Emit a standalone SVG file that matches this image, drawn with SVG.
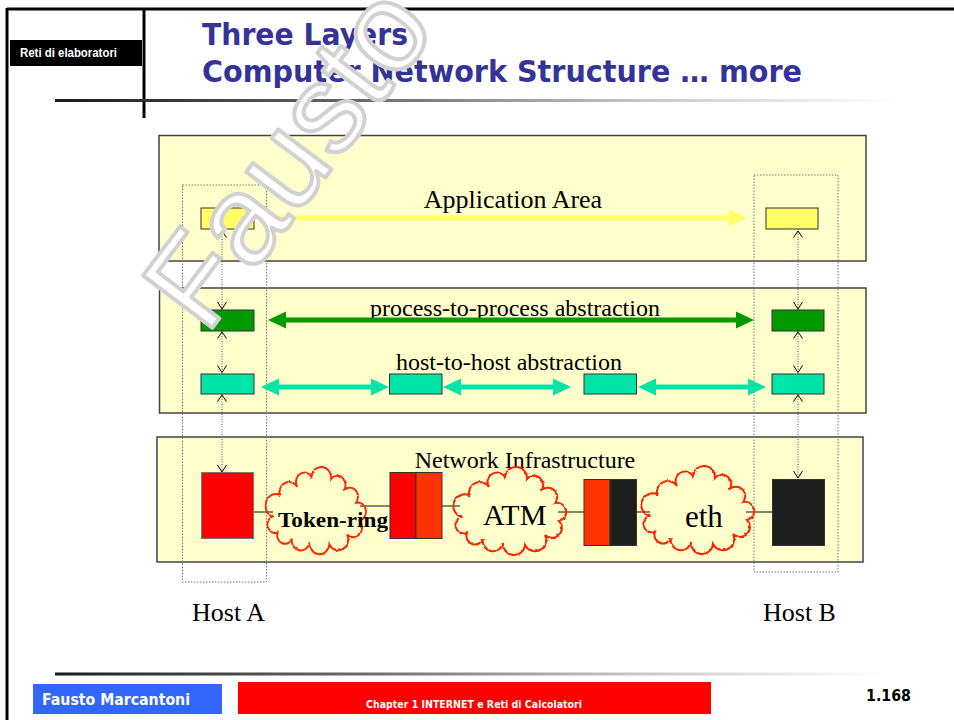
<svg xmlns="http://www.w3.org/2000/svg" width="954" height="720" viewBox="0 0 954 720">
  <style>
    .panel { fill: #ffffcc; stroke: #444; stroke-width: 1.5; }
    .hostframe { fill: none; stroke: #777; stroke-width: 1; stroke-dasharray: 1.5 1.5; }
    .box { stroke: #333; stroke-width: 1; }
    .lbl { font-family: "Liberation Serif", "Times New Roman", serif; fill: #000; }
    .vline { fill: none; stroke: #555; stroke-width: 1; stroke-dasharray: 1 1.5; }
    .chev { fill: none; stroke: #000; stroke-width: 1; }
    .wire { stroke: #333; stroke-width: 1.2; }
    .cloud { fill: none; stroke: #ff2200; stroke-width: 2; }
    .title { font-family: "DejaVu Sans", Verdana, sans-serif; font-weight: bold; font-size: 31px; fill: #333399; }
    .foot { font-family: "DejaVu Sans", Verdana, sans-serif; font-weight: bold; }
  </style>
  <defs>
    <linearGradient id="fadeLine" x1="0" y1="0" x2="1" y2="0">
      <stop offset="0" stop-color="#1a1a1a"/>
      <stop offset="0.35" stop-color="#666"/>
      <stop offset="0.7" stop-color="#c8c8c8"/>
      <stop offset="1" stop-color="#ffffff"/>
    </linearGradient>
    <filter id="rough" x="-10%" y="-10%" width="120%" height="120%">
      <feTurbulence type="fractalNoise" baseFrequency="0.25" numOctaves="2" seed="3"/>
      <feDisplacementMap in="SourceGraphic" scale="2.5" xChannelSelector="R" yChannelSelector="G"/>
    </filter>
    <path id="cloudShape" d="M6,44 A11,11 0 0 1 14,22 A11,11 0 0 1 34,14 A9,9 0 0 1 50,4 A11,11 0 0 1 72,6 A8,8 0 0 1 86,18 A8,8 0 0 1 100,30 A9,9 0 0 1 104,48 A9,9 0 0 1 90,62 A10,10 0 0 1 70,72 A10,10 0 0 1 48,70 A9,9 0 0 1 28,66 A8,8 0 0 1 12,60 A8,8 0 0 1 6,44 Z"/>
  </defs>

  <!-- slide frame -->
  <g id="frame">
    <line x1="7" y1="9" x2="954" y2="9" stroke="#000" stroke-width="3"/>
    <line x1="7" y1="8" x2="7" y2="720" stroke="#000" stroke-width="3"/>
    <line x1="144" y1="9" x2="144" y2="118" stroke="#000" stroke-width="3"/>
    <rect x="55" y="99" width="845" height="3" fill="url(#fadeLine)"/>
    <rect x="10" y="40" width="132" height="26" fill="#000"/>
    <text x="20" y="57" font-family="Liberation Sans Narrow, Liberation Sans, Arial, sans-serif" font-weight="bold" font-size="13" fill="#fff" textLength="97" lengthAdjust="spacingAndGlyphs">Reti di elaboratori</text>
    <text class="title" x="202" y="45" textLength="206" lengthAdjust="spacingAndGlyphs">Three Layers</text>
    <text class="title" x="202" y="82" textLength="600" lengthAdjust="spacingAndGlyphs">Computer Network Structure … more</text>
  </g>

  <!-- layer panels -->
  <g id="application-area">
    <rect class="panel" x="159" y="135.5" width="707" height="125.5"/>
    <text class="lbl" x="513" y="208" font-size="26" text-anchor="middle">Application Area</text>
  </g>
  <g id="abstraction-layer">
    <rect class="panel" x="159.5" y="288" width="706.5" height="125"/>
    <text class="lbl" x="515" y="316" font-size="24" text-anchor="middle">process-to-process abstraction</text>
    <text class="lbl" x="509" y="370" font-size="24" text-anchor="middle">host-to-host abstraction</text>
  </g>
  <g id="network-infrastructure">
    <rect class="panel" x="157" y="437" width="706" height="125"/>
    <text class="lbl" x="525" y="468" font-size="24" text-anchor="middle">Network Infrastructure</text>
  </g>

  <!-- host outlines -->
  <g id="host-a">
    <rect class="hostframe" x="182.5" y="185" width="84" height="397"/>
    <text class="lbl" x="192" y="621" font-size="26">Host A</text>
  </g>
  <g id="host-b">
    <rect class="hostframe" x="754" y="175" width="84" height="397"/>
    <text class="lbl" x="763" y="621" font-size="26">Host B</text>
  </g>

  <!-- connectors -->
  <g id="connectors">
    <!-- application data flow -->
    <polygon fill="#ffff66" points="268,215.5 729,215.5 729,209.5 747,218 729,226.5 729,220.5 268,220.5"/>
    <!-- process-to-process -->
    <polygon fill="#009900" points="268,320 286,311.5 286,317.5 736,317.5 736,311.5 754,320 736,328.5 736,322.5 286,322.5 286,328.5"/>
    <!-- host-to-host hops -->
    <polygon fill="#00e4a8" points="261,387 279,378.5 279,384.5 371,384.5 371,378.5 389,387 371,395.5 371,389.5 279,389.5 279,395.5"/>
    <polygon fill="#00e4a8" points="443,387 461,378.5 461,384.5 553,384.5 553,378.5 571,387 553,395.5 553,389.5 461,389.5 461,395.5"/>
    <polygon fill="#00e4a8" points="638,387 656,378.5 656,384.5 748,384.5 748,378.5 766,387 748,395.5 748,389.5 656,389.5 656,395.5"/>

    <!-- vertical stack links, host A -->
    <line class="vline" x1="222" y1="229" x2="222" y2="310"/>
    <line class="vline" x1="222" y1="331" x2="222" y2="374"/>
    <line class="vline" x1="222" y1="394" x2="222" y2="472"/>
    <path class="chev" d="M217.5,237.5 L222,231 L226.5,237.5 M217.5,302 L222,309 L226.5,302 M217.5,338.5 L222,332 L226.5,338.5 M217.5,365.5 L222,372.5 L226.5,365.5 M217.5,401.5 L222,395 L226.5,401.5 M217.5,465 L222,472 L226.5,465"/>
    <!-- vertical stack links, host B -->
    <line class="vline" x1="798" y1="229" x2="798" y2="310"/>
    <line class="vline" x1="798" y1="331" x2="798" y2="374"/>
    <line class="vline" x1="798" y1="394" x2="798" y2="479"/>
    <path class="chev" d="M793.5,237.5 L798,231 L802.5,237.5 M793.5,302 L798,309 L802.5,302 M793.5,338.5 L798,332 L802.5,338.5 M793.5,365.5 L798,372.5 L802.5,365.5 M793.5,401.5 L798,395 L802.5,401.5 M793.5,471 L798,478 L802.5,471"/>

    <!-- physical links -->
    <line class="wire" x1="254" y1="512" x2="273" y2="512"/>
    <line class="wire" x1="360" y1="506" x2="390" y2="506"/>
    <line class="wire" x1="442" y1="506" x2="460" y2="506"/>
    <line class="wire" x1="558" y1="512" x2="584" y2="512"/>
    <line class="wire" x1="637" y1="512" x2="650" y2="512"/>
    <line class="wire" x1="746" y1="512" x2="772" y2="512"/>
  </g>

  <!-- protocol entities -->
  <g id="app-a"><rect class="box" x="201" y="208" width="53" height="21" fill="#ffff66"/></g>
  <g id="app-b"><rect class="box" x="766" y="208" width="52" height="21" fill="#ffff66"/></g>
  <g id="proc-a"><rect class="box" x="201" y="310" width="53" height="21" fill="#009900"/></g>
  <g id="proc-b"><rect class="box" x="772" y="310" width="52" height="21" fill="#009900"/></g>
  <g id="host-a-net"><rect class="box" x="201" y="374" width="53" height="20" fill="#00e4a8"/></g>
  <g id="router1-net"><rect class="box" x="389.5" y="374" width="52.5" height="20" fill="#00e4a8"/></g>
  <g id="router2-net"><rect class="box" x="584" y="374" width="52.5" height="20" fill="#00e4a8"/></g>
  <g id="host-b-net"><rect class="box" x="772" y="374" width="52" height="20" fill="#00e4a8"/></g>

  <!-- physical devices -->
  <g id="host-a-dev"><rect x="201.5" y="472.5" width="52" height="66" fill="#ff0000" stroke="#777" stroke-width="1"/></g>
  <g id="router1">
    <rect x="390" y="472.5" width="26" height="66" fill="#ff0000" stroke="#333" stroke-width="1"/>
    <rect x="416" y="472.5" width="26" height="66" fill="#ff3300" stroke="#333" stroke-width="1"/>
  </g>
  <g id="router2">
    <rect x="584" y="479.5" width="26" height="66" fill="#ff3300" stroke="#333" stroke-width="1"/>
    <rect x="610" y="479.5" width="26.5" height="66" fill="#1e1e1e" stroke="#333" stroke-width="1"/>
  </g>
  <g id="host-b-dev"><rect x="772.5" y="479.5" width="52" height="66" fill="#1e1e1e" stroke="#333" stroke-width="1"/></g>

  <!-- networks -->
  <g id="token-ring">
    <use href="#cloudShape" class="cloud" filter="url(#rough)" transform="translate(267,473) scale(0.89,0.99)"/>
    <text class="lbl" x="278" y="527" font-size="22" font-weight="bold" textLength="110" lengthAdjust="spacingAndGlyphs">Token-ring</text>
  </g>
  <g id="atm">
    <use href="#cloudShape" class="cloud" filter="url(#rough)" transform="translate(455,473)"/>
    <text class="lbl" x="483" y="525" font-size="30">ATM</text>
  </g>
  <g id="eth">
    <use href="#cloudShape" class="cloud" filter="url(#rough)" transform="translate(643,472)"/>
    <text class="lbl" x="685" y="527" font-size="31">eth</text>
  </g>

  <!-- author watermark -->
  <text x="206" y="336" transform="rotate(-53 206 336)" font-family="Liberation Sans, Arial, sans-serif" font-size="126" fill="#fff" stroke="#d2d2d2" stroke-width="4" stroke-linejoin="round">Fausto</text>

  <!-- footer -->
  <g id="footer">
    <rect x="55" y="672.5" width="830" height="3" fill="url(#fadeLine)"/>
    <rect x="33" y="684" width="189" height="30" fill="#3366ff"/>
    <text class="foot" x="42" y="705" font-size="15" fill="#fff" textLength="148" lengthAdjust="spacingAndGlyphs">Fausto Marcantoni</text>
    <rect x="238" y="682" width="473" height="32" fill="#ff0000"/>
    <text class="foot" x="366" y="708" font-size="10" fill="#fff" textLength="216" lengthAdjust="spacingAndGlyphs">Chapter 1 INTERNET e Reti di Calcolatori</text>
    <text class="foot" x="866" y="701" font-size="15" fill="#000" textLength="45" lengthAdjust="spacingAndGlyphs">1.168</text>
  </g>
</svg>
